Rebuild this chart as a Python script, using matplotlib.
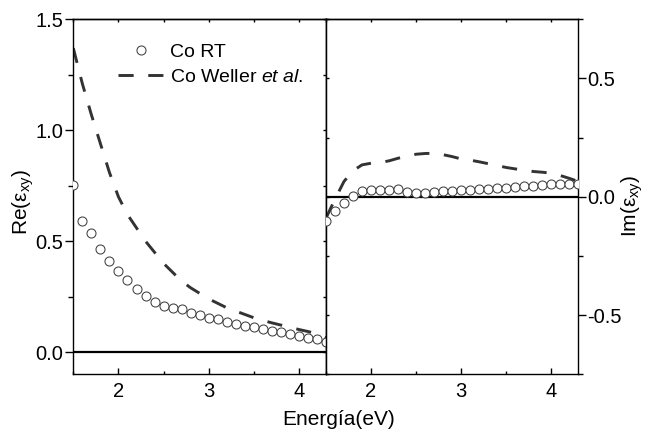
import numpy as np
import matplotlib
matplotlib.use("Agg")
import matplotlib.pyplot as plt
from matplotlib.ticker import MultipleLocator, FormatStrFormatter

plt.rcParams["font.family"] = ["Liberation Sans", "DejaVu Sans"]
plt.rcParams["mathtext.fontset"] = "custom"
plt.rcParams["mathtext.rm"] = "Liberation Sans"
plt.rcParams["mathtext.it"] = "Liberation Sans:italic"

# Photon energy grid (eV)
energy = [1.5, 1.6, 1.7, 1.8, 1.9, 2.0, 2.1, 2.2, 2.3, 2.4, 2.5, 2.6, 2.7, 2.8, 2.9,
          3.0, 3.1, 3.2, 3.3, 3.4, 3.5, 3.6, 3.7, 3.8, 3.9, 4.0, 4.1, 4.2, 4.3]

# Co at room temperature (measured)
re_co_rt = [0.755, 0.59, 0.535, 0.466, 0.409, 0.366, 0.324, 0.283, 0.253, 0.226, 0.208,
            0.201, 0.194, 0.178, 0.166, 0.156, 0.148, 0.136, 0.129, 0.118, 0.114, 0.103,
            0.096, 0.091, 0.084, 0.073, 0.066, 0.058, 0.046]
im_co_rt = [-0.101, -0.059, -0.028, 0.004, 0.025, 0.030, 0.030, 0.030, 0.031, 0.022,
            0.017, 0.017, 0.020, 0.025, 0.026, 0.028, 0.030, 0.032, 0.034, 0.036, 0.038,
            0.041, 0.044, 0.047, 0.050, 0.053, 0.055, 0.056, 0.055]

# Co, Weller et al.
re_weller = [1.37, 1.21, 1.07, 0.94, 0.81, 0.70, 0.62, 0.56, 0.50, 0.45, 0.40, 0.36,
             0.32, 0.29, 0.265, 0.24, 0.22, 0.20, 0.185, 0.17, 0.155, 0.143, 0.132,
             0.122, 0.112, 0.102, 0.093, 0.083, 0.065]
im_weller = [-0.09, -0.01, 0.065, 0.11, 0.135, 0.142, 0.145, 0.152, 0.163, 0.172, 0.18,
             0.183, 0.184, 0.178, 0.17, 0.16, 0.155, 0.148, 0.14, 0.132, 0.124, 0.118,
             0.113, 0.107, 0.104, 0.10, 0.09, 0.078, 0.065]

labels = ["Co RT", r"Co Weller $\mathit{et\ al.}$"]

fig = plt.figure(figsize=(6.5, 4.29), dpi=100)
ax_re = fig.add_axes([0.1128, 0.1274, 0.3888, 0.8276])
ax_im = fig.add_axes([0.5015, 0.1274, 0.3882, 0.8276])

mk = dict(marker="o", linestyle="none", markersize=6.5, markerfacecolor="white",
          markeredgecolor="#404040", markeredgewidth=0.75)
dl = dict(color="#333333", linewidth=2.1, linestyle=(0, (5.2, 5.0)),
          dash_capstyle="butt")

TICK_FS = 14.5

for ax, y_rt, y_w in ((ax_re, re_co_rt, re_weller), (ax_im, im_co_rt, im_weller)):
    ax.axhline(0, color="black", linewidth=1.6, zorder=1)
    ax.plot(energy, y_w, zorder=2, **dl)
    ax.plot(energy, y_rt, zorder=3, **mk)
    ax.set_xlim(1.5, 4.3)
    ax.xaxis.set_major_locator(MultipleLocator(1))
    ax.xaxis.set_minor_locator(MultipleLocator(0.5))
    for s in ax.spines.values():
        s.set_linewidth(1.0)
    ax.tick_params(axis="x", which="major", direction="in", length=4.3, width=1,
                   labelsize=TICK_FS, pad=5.5, top=False)
    ax.tick_params(axis="x", which="minor", direction="in", length=2.2, width=1, top=False)
    # short inward ticks along the top edge
    sec = ax.secondary_xaxis("top")
    sec.xaxis.set_major_locator(MultipleLocator(1))
    sec.xaxis.set_minor_locator(MultipleLocator(0.5))
    sec.tick_params(which="both", direction="in", length=2, width=1, labeltop=False)
    sec.spines["top"].set_linewidth(1.0)

ax_re.set_ylim(-0.1, 1.5)
ax_re.yaxis.set_major_locator(MultipleLocator(0.5))
ax_re.yaxis.set_minor_locator(MultipleLocator(0.25))
ax_re.yaxis.set_major_formatter(FormatStrFormatter("%.1f"))
ax_re.tick_params(axis="y", which="major", direction="out", length=5.8, width=1,
                  labelsize=TICK_FS, pad=1.5)
ax_re.tick_params(axis="y", which="minor", direction="out", length=3.6, width=1)
sec_r = ax_re.secondary_yaxis("right")
sec_r.yaxis.set_major_locator(MultipleLocator(0.5))
sec_r.yaxis.set_minor_locator(MultipleLocator(0.25))
sec_r.tick_params(which="both", direction="in", length=2, width=1, labelright=False)

ax_im.set_ylim(-0.75, 0.75)
ax_im.yaxis.set_major_locator(MultipleLocator(0.5))
ax_im.yaxis.set_minor_locator(MultipleLocator(0.25))
ax_im.yaxis.set_major_formatter(FormatStrFormatter("%.1f"))
ax_im.yaxis.tick_right()
ax_im.tick_params(axis="y", which="major", direction="out", length=5.4, width=1,
                  labelsize=TICK_FS, pad=1.0, left=False, right=True)
ax_im.tick_params(axis="y", which="minor", direction="out", length=3.6, width=1,
                  left=False, right=True)
sec_l = ax_im.secondary_yaxis("left")
sec_l.yaxis.set_major_locator(MultipleLocator(0.5))
sec_l.yaxis.set_minor_locator(MultipleLocator(0.25))
sec_l.tick_params(which="both", direction="in", length=2, width=1, labelleft=False)

# Legend
h_rt, = ax_re.plot([], [], **mk)
h_w, = ax_re.plot([], [], **dl)
ax_re.legend([h_rt, h_w], labels, loc="upper left", bbox_to_anchor=(0.178, 0.932),
             frameon=False, fontsize=14, handlelength=2.3, handletextpad=0.34,
             labelspacing=0.36, borderaxespad=0, borderpad=0)

fig.text(0.036, 0.528, r"Re(ε$_\mathregular{xy}$)", rotation=90, fontsize=15,
         ha="center", va="center")
fig.text(0.972, 0.521, r"Im(ε$_\mathregular{xy}$)", rotation=90, fontsize=15,
         ha="center", va="center")
fig.text(0.5205, 0.0093, "Energía(eV)", fontsize=15, ha="center", va="baseline")

fig.savefig("out.png", dpi=100)
